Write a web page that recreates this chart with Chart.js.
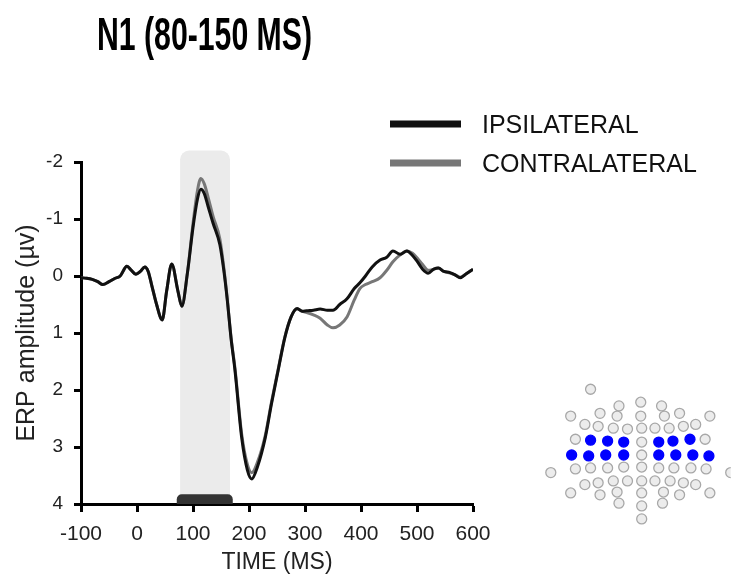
<!DOCTYPE html>
<html>
<head>
<meta charset="utf-8">
<script src="https://cdn.jsdelivr.net/npm/chart.js@4.4.1/dist/chart.umd.min.js"></script>
<style>
  html, body { margin: 0; padding: 0; background: #fff; }
  #wrap { position: relative; width: 737px; height: 574px; overflow: hidden; }
  #erp { position: absolute; left: 0; top: 0; }
  #cap { position: absolute; left: 500px; top: 370px; }
  #title {
    position: absolute; left: 97px; top: 11px;
    font: bold 46px 'Liberation Sans', Arial, sans-serif; line-height: 46px;
    transform: scaleX(0.657); transform-origin: 0 0; white-space: nowrap; color: #000;
  }
</style>
</head>
<body>
<div id="wrap">
  <canvas id="erp" width="737" height="574"></canvas>
  <canvas id="cap" width="237" height="170"></canvas>
  <div id="title">N1 (80-150 MS)</div>
</div>
<script>
// time points (ms)
const times = [-100, -90, -80, -70, -61, -50, -39, -30, -18, -10, -2, 6, 14, 20, 26, 35, 45, 53, 62, 73,
  80, 90, 100, 108, 114, 120, 127, 136, 148, 155, 161, 168, 175, 187, 197, 205, 215, 229, 240, 252,
  264, 275, 286, 295, 303, 315, 327, 340, 350, 362, 375, 388, 398, 408, 420, 434, 446, 457, 470, 482,
  492, 500, 510, 520, 530, 538, 548, 559, 568, 577, 588, 600];

// amplitude (µV)
const ipsilateral = [0.03, 0.04, 0.06, 0.10, 0.15, 0.10, 0.04, 0.00, -0.17, -0.10, -0.03, -0.08, -0.16, -0.08, 0.15, 0.50, 0.77, 0.26, -0.21, 0.26,
  0.53, -0.05, -0.85, -1.35, -1.52, -1.45, -1.22, -0.92, -0.55, -0.10, 0.40, 1.10, 1.66, 2.84, 3.40, 3.56, 3.35, 2.84, 2.25, 1.66,
  1.08, 0.72, 0.57, 0.62, 0.61, 0.60, 0.58, 0.60, 0.60, 0.50, 0.40, 0.22, 0.12, 0.00, -0.16, -0.28, -0.33, -0.44, -0.38, -0.44,
  -0.36, -0.26, -0.12, -0.05, -0.12, -0.14, -0.08, -0.06, -0.02, 0.03, -0.04, -0.12];

const contralateral = [0.03, 0.04, 0.06, 0.10, 0.15, 0.10, 0.04, 0.00, -0.17, -0.10, -0.03, -0.08, -0.16, -0.08, 0.15, 0.50, 0.77, 0.26, -0.21, 0.26,
  0.53, -0.05, -0.92, -1.50, -1.71, -1.62, -1.38, -1.04, -0.65, -0.15, 0.38, 1.08, 1.62, 2.78, 3.30, 3.45, 3.27, 2.80, 2.22, 1.64,
  1.07, 0.72, 0.58, 0.62, 0.64, 0.68, 0.74, 0.86, 0.91, 0.86, 0.72, 0.42, 0.22, 0.15, 0.10, 0.03, -0.10, -0.25, -0.37, -0.44,
  -0.40, -0.32, -0.20, -0.10, -0.12, -0.14, -0.08, -0.05, -0.02, 0.02, -0.04, -0.12];

const xTicks = [-100, 0, 100, 200, 300, 400, 500, 600];
const yTicks = [-2, -1, 0, 1, 2, 3, 4];

// grey window and significance bar (ms / µV)
const shadeWindow = [77, 166];
const shadeTop = -2.2;
const sigWindow = [71, 171];
const sigTop = 3.83;

// electrode cap inset
const capX = [89, 119, 142, 164, 68, 99, 117, 142, 167, 183, 215,
  83, 97, 113, 128, 143, 157, 172, 187, 200,
  73, 89, 107, 124, 143, 161, 176, 194, 210,
  69, 87, 105, 124, 143, 161, 179, 197, 214,
  47, 73, 89, 107, 124, 143, 161, 177, 195, 211, 237,
  83, 97, 113, 128, 143, 157, 173, 187, 200,
  68, 99, 117, 143, 166, 183, 215, 119, 143, 165, 143];
const capY = [14, 32, 28, 32, 43, 40, 43, 43, 43, 40, 43,
  52, 54, 56, 57, 56, 56, 56, 54, 52,
  68, 69, 70, 71, 71, 71, 70, 68, 68,
  85, 86, 85, 85, 85, 85, 85, 85, 86,
  104, 100, 99, 99, 98, 98, 99, 99, 99, 100, 104,
  117, 115, 113, 113, 113, 113, 113, 115, 117,
  126, 128, 125, 126, 125, 128, 126, 137, 140, 137, 154];
const capActive = [0, 0, 0, 0, 0, 0, 0, 0, 0, 0, 0,
  0, 0, 0, 0, 0, 0, 0, 0, 0,
  0, 1, 1, 1, 0, 1, 1, 1, 0,
  1, 1, 1, 1, 0, 1, 1, 1, 1,
  0, 0, 0, 0, 0, 0, 0, 0, 0, 0, 0,
  0, 0, 0, 0, 0, 0, 0, 0, 0,
  0, 0, 0, 0, 0, 0, 0, 0, 0, 0, 0];

Chart.defaults.font.family = "'Liberation Sans', Arial, sans-serif";
Chart.defaults.color = '#222';

const windowPlugin = {
  id: 'windowShade',
  beforeDraw(chart) {
    const { ctx, scales: { x, y } } = chart;
    const x0 = x.getPixelForValue(shadeWindow[0]);
    const x1 = x.getPixelForValue(shadeWindow[1]);
    const top = y.getPixelForValue(shadeTop);
    const bottom = y.getPixelForValue(4);
    ctx.save();
    ctx.fillStyle = '#ebebeb';
    ctx.beginPath();
    ctx.roundRect(x0, top, x1 - x0, bottom - top, [9, 9, 0, 0]);
    ctx.fill();
    ctx.restore();
  },
  afterDatasetsDraw(chart) {
    const { ctx, scales: { x, y } } = chart;
    const x0 = x.getPixelForValue(sigWindow[0]);
    const x1 = x.getPixelForValue(sigWindow[1]);
    const top = y.getPixelForValue(sigTop);
    const bottom = y.getPixelForValue(4);
    ctx.save();
    ctx.fillStyle = '#333';
    ctx.beginPath();
    ctx.roundRect(x0, top, x1 - x0, bottom - top, [5, 5, 0, 0]);
    ctx.fill();
    ctx.restore();
  }
};

const sideLegend = {
  id: 'sideLegend',
  afterDraw(chart) {
    const ctx = chart.ctx;
    const rows = [124, 163];
    ctx.save();
    ctx.font = "25px 'Liberation Sans', Arial, sans-serif";
    ctx.textBaseline = 'alphabetic';
    chart.data.datasets.forEach((ds, i) => {
      ctx.fillStyle = ds.borderColor;
      ctx.fillRect(390, rows[i] - 3.5, 71, 7);
      ctx.fillStyle = '#111';
      ctx.fillText(ds.label, 482, rows[i] + 9);
    });
    ctx.restore();
  }
};

new Chart(document.getElementById('erp'), {
  type: 'line',
  data: {
    datasets: [{
      label: 'IPSILATERAL',
      data: times.map((t, i) => ({ x: t, y: ipsilateral[i] })),
      borderColor: '#111',
      borderWidth: 3,
      pointRadius: 0,
      cubicInterpolationMode: 'monotone'
    }, {
      label: 'CONTRALATERAL',
      data: times.map((t, i) => ({ x: t, y: contralateral[i] })),
      borderColor: '#777',
      borderWidth: 3,
      pointRadius: 0,
      cubicInterpolationMode: 'monotone'
    }]
  },
  options: {
    responsive: false,
    animation: false,
    events: [],
    layout: {
      padding: { top: 162, right: 264, left: 0, bottom: 0 }
    },
    plugins: {
      legend: { display: false },
      tooltip: { enabled: false }
    },
    scales: {
      x: {
        type: 'linear',
        min: -100,
        max: 600,
        afterBuildTicks: (s) => { s.ticks = xTicks.map(v => ({ value: v })); },
        afterFit: (s) => { s.height = 70; },
        grid: { drawOnChartArea: false, tickLength: 8, tickWidth: 3, tickColor: '#000' },
        border: { color: '#000', width: 3 },
        ticks: { color: '#222', font: { size: 21 }, padding: 10, maxRotation: 0 },
        title: { display: true, text: 'TIME (MS)', color: '#222', font: { size: 23 }, padding: { top: 0, bottom: -2 } }
      },
      y: {
        min: -2,
        max: 4,
        reverse: true,
        afterBuildTicks: (s) => { s.ticks = yTicks.map(v => ({ value: v })); },
        afterFit: (s) => { s.width = 81; },
        grid: { drawOnChartArea: false, tickLength: 7, tickWidth: 3, tickColor: '#000' },
        border: { color: '#000', width: 3 },
        ticks: { color: '#222', font: { size: 19 }, padding: 11 },
        title: { display: true, text: 'ERP amplitude (µv)', color: '#222', font: { size: 25 }, padding: { top: 12, bottom: 0 } }
      }
    }
  },
  plugins: [windowPlugin, sideLegend]
});

new Chart(document.getElementById('cap'), {
  type: 'scatter',
  data: {
    datasets: [{
      data: capX.map((x, i) => ({ x: x, y: capY[i] })),
      backgroundColor: capActive.map(a => a ? '#0000ff' : '#ececec'),
      borderColor: capActive.map(a => a ? '#0000ff' : '#a8a8a8'),
      borderWidth: 1.3,
      pointRadius: 5
    }]
  },
  options: {
    responsive: false,
    animation: false,
    events: [],
    layout: { padding: 0 },
    plugins: { legend: { display: false }, tooltip: { enabled: false } },
    scales: {
      x: { display: false, min: 0, max: 237 },
      y: { display: false, min: 0, max: 170, reverse: true }
    }
  }
});
</script>
</body>
</html>
